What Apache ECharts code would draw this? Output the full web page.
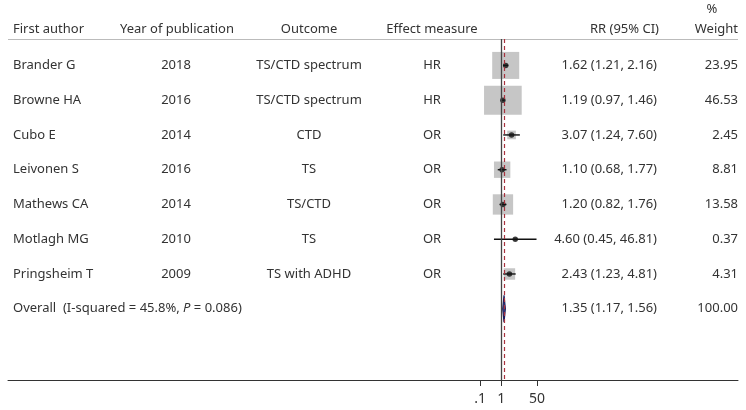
<!DOCTYPE html>
<html><head><meta charset="utf-8">
<script src="https://cdn.jsdelivr.net/npm/echarts@6/dist/echarts.min.js"></script>
<style>html,body{margin:0;padding:0;background:#fff}#c{width:746px;height:410px}</style>
</head><body><div id="c"></div>
<script>
const authors = ['Brander G','Browne HA','Cubo E','Leivonen S','Mathews CA','Motlagh MG','Pringsheim T'];
const years = ['2018','2016','2014','2016','2014','2010','2009'];
const outcomes = ['TS/CTD spectrum','TS/CTD spectrum','CTD','TS','TS/CTD','TS','TS with ADHD'];
const measures = ['HR','HR','OR','OR','OR','OR','OR'];
const rr = [1.62,1.19,3.07,1.10,1.20,4.60,2.43];
const lo = [1.21,0.97,1.24,0.68,0.82,0.45,1.23];
const hi = [2.16,1.46,7.60,1.77,1.76,46.81,4.81];
const weights = [23.95,46.53,2.45,8.81,13.58,0.37,4.31];
const overallRR = 1.35, overallLo = 1.17, overallHi = 1.56, overallWeight = 100.00;
const overallLabel = ['Overall  (I-squared = 45.8%, ', 'P', ' = 0.086)'];
const headers = ['First author','Year of publication','Outcome','Effect measure','RR (95% CI)','%','Weight'];
const tickValues = [0.1, 1, 50];
const tickLabels = ['.1','1','50'];

const L = Math.log10;
const FONT = '13px "Noto Sans"';
const TXT = '#333';
const fmt = v => v.toFixed(2);
const n = authors.length;

const chart = echarts.init(document.getElementById('c'), null, {renderer:'canvas'});

function textEl(x, y, text, align) {
  return {type:'text', x:x, y:y, style:{text:text, fill:TXT, font:FONT, align:align, verticalAlign:'middle'}};
}

const rowData = authors.map((a,i)=>[0,i]);
rowData.push([0,n]);

const option = {
  animation:false,
  grid:{left:8, right:8, top:39, bottom:30},
  xAxis:{
    type:'value', min:-23.38, max:11.22,
    axisLine:{show:true, onZero:false, lineStyle:{color:'#333', width:1}},
    axisTick:{show:true, customValues:tickValues.map(L), length:6, lineStyle:{color:'#333'}},
    axisLabel:{show:true, customValues:tickValues.map(L), margin:12, color:TXT,
      fontFamily:'"Liberation Sans Narrow", "Noto Sans"', fontSize:14,
      formatter:(v)=>{ const k = tickValues.map(L).findIndex(t=>Math.abs(t-v)<1e-6); return k>=0?tickLabels[k]:''; }},
    splitLine:{show:false}
  },
  yAxis:{type:'value', inverse:true, min:-0.76, max:9.05, show:false},
  series:[
    {
      type:'custom', name:'boxes', z:2,
      data: rr.map((v,i)=>[L(v), i, weights[i]]),
      renderItem:(params, api)=>{
        const p = api.coord([api.value(0), api.value(1)]);
        const side = 5.52*Math.sqrt(api.value(2));
        const h = Math.min(side, 29);
        return {type:'rect', shape:{x:p[0]-side/2, y:p[1]-h/2, width:side, height:h}, style:{fill:'#c6c6c6'}};
      }
    },
    {
      type:'custom', name:'ci', z:3,
      data: rr.map((v,i)=>[L(lo[i]), L(hi[i]), i]),
      renderItem:(params, api)=>{
        const a = api.coord([api.value(0), api.value(2)]);
        const b = api.coord([api.value(1), api.value(2)]);
        return {type:'line', shape:{x1:a[0], y1:a[1], x2:b[0], y2:b[1]}, style:{stroke:'#111', lineWidth:1.4}};
      }
    },
    {
      type:'scatter', name:'points', z:4, symbol:'circle', symbolSize:5.5,
      itemStyle:{color:'#111'},
      data: rr.map((v,i)=>[L(v), i]),
      markLine:{
        silent:true, symbol:['none','none'], label:{show:false},
        data:[
          {xAxis:0, lineStyle:{color:'#444', width:1.3, type:'solid'}},
          {xAxis:L(overallRR), lineStyle:{color:'#a8323e', width:1.2, type:[4,3]}}
        ]
      }
    },
    {
      type:'custom', name:'overall', z:4,
      data:[[L(overallLo), L(overallRR), L(overallHi), n]],
      renderItem:(params, api)=>{
        const a = api.coord([api.value(0), api.value(3)]);
        const m = api.coord([api.value(1), api.value(3)]);
        const b = api.coord([api.value(2), api.value(3)]);
        const h = 13.5;
        return {type:'polygon', shape:{points:[[a[0],a[1]],[m[0],m[1]-h],[b[0],b[1]],[m[0],m[1]+h]]},
          style:{fill:'#4a4a88', stroke:'#1c1c5c', lineWidth:1.2}};
      }
    },
    {
      type:'custom', name:'text', z:5, silent:true,
      data: rowData,
      renderItem:(params, api)=>{
        const i = api.value(1);
        const y = api.coord([0, i])[1];
        if (i === n) {
          return {type:'group', children:[
            {type:'text', x:13, y:y, style:{
              text:'{a|'+overallLabel[0]+'}{b|'+overallLabel[1]+'}{a|'+overallLabel[2]+'}',
              verticalAlign:'middle', align:'left',
              rich:{a:{fill:TXT, font:FONT}, b:{fill:TXT, font:'italic 13px "Noto Sans"'}}
            }},
            textEl(657, y, fmt(overallRR)+' ('+fmt(overallLo)+', '+fmt(overallHi)+')', 'right'),
            textEl(738, y, fmt(overallWeight), 'right')
          ]};
        }
        return {type:'group', children:[
          textEl(13, y, authors[i], 'left'),
          textEl(176, y, years[i], 'center'),
          textEl(309, y, outcomes[i], 'center'),
          textEl(432, y, measures[i], 'center'),
          textEl(657, y, fmt(rr[i])+' ('+fmt(lo[i])+', '+fmt(hi[i])+')', 'right'),
          textEl(738, y, fmt(weights[i]), 'right')
        ]};
      }
    }
  ],
  graphic:[
    {type:'line', shape:{x1:8, y1:39.5, x2:738, y2:39.5}, style:{stroke:'#bbb', lineWidth:1}},
    textEl(13, 29, headers[0], 'left'),
    textEl(177, 29, headers[1], 'center'),
    textEl(309, 29, headers[2], 'center'),
    textEl(432, 29, headers[3], 'center'),
    textEl(659, 29, headers[4], 'right'),
    textEl(712, 9, headers[5], 'center'),
    textEl(738, 29, headers[6], 'right')
  ]
};
chart.setOption(option);
</script></body></html>
